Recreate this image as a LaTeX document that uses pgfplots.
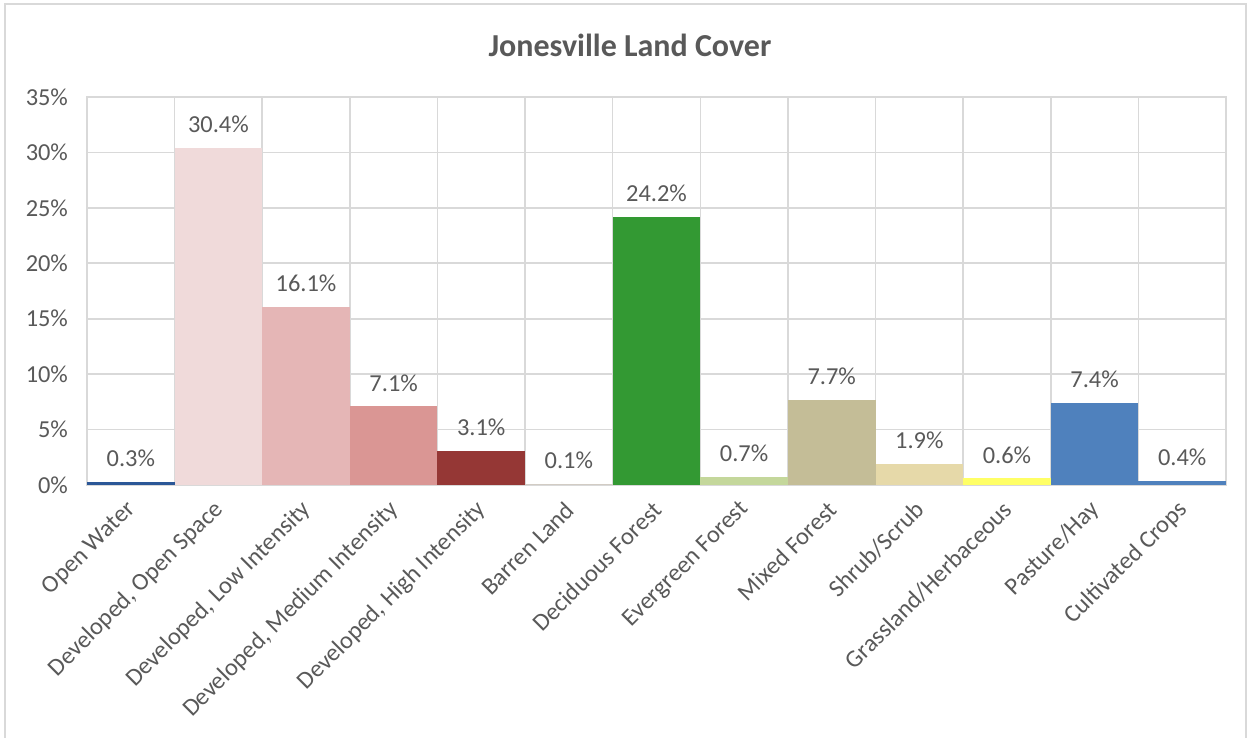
\documentclass[border=0pt]{standalone}
\usepackage{pgfplots}
\pgfplotsset{compat=1.18}
\usepackage{fontspec}
\setmainfont{Carlito}
\definecolor{txt}{HTML}{595959}
\definecolor{gridc}{HTML}{D9D9D9}
\definecolor{c1}{HTML}{2B5797}
\definecolor{c2}{HTML}{F0DADA}
\definecolor{c3}{HTML}{E5B6B6}
\definecolor{c4}{HTML}{DA9694}
\definecolor{c5}{HTML}{953735}
\definecolor{c6}{HTML}{D2CCC4}
\definecolor{c7}{HTML}{339933}
\definecolor{c8}{HTML}{C4D79B}
\definecolor{c9}{HTML}{C4BD97}
\definecolor{c10}{HTML}{E6D9A9}
\definecolor{c11}{HTML}{FFFF66}
\definecolor{c12}{HTML}{4F81BD}
\definecolor{c13}{HTML}{4F81BD}
\newcommand{\lblfont}{\fontsize{12.2}{14}\selectfont}
\begin{document}
\begin{tikzpicture}
\path[use as bounding box] (0,0) rectangle (627pt,369pt);
\draw[gridc, line width=0.8pt] (2.5pt,-5pt) -- (2.5pt,367pt) -- (623pt,367pt) -- (623pt,-5pt);
\node[font=\bfseries\fontsize{16}{19}\selectfont, text=txt] at (315pt,346.5pt) {Jonesville Land Cover};
\begin{axis}[
  at={(43.5pt,126.5pt)}, anchor=south west,
  scale only axis, width=569.5pt, height=194pt,
  xmin=0, xmax=13, ymin=0, ymax=35,
  ytick={0,5,...,35},
  yticklabel={\pgfmathprintnumber{\tick}\%},
  /pgf/number format/assume math mode=true,
  xtick={0.5,1.5,...,12.5},
  xticklabels={Open Water,{Developed, Open Space},{Developed, Low Intensity},{Developed, Medium Intensity},{Developed, High Intensity},Barren Land,Deciduous Forest,Evergreen Forest,Mixed Forest,Shrub/Scrub,Grassland/Herbaceous,Pasture/Hay,Cultivated Crops},
  minor xtick={0,1,...,13},
  xminorgrids, ymajorgrids,
  grid style={gridc, line width=0.8pt},
  minor grid style={gridc, line width=0.8pt},
  axis line style={gridc, line width=0.8pt},
  major tick length=0pt, minor tick length=0pt,
  tick style={draw=none},
  ticklabel style={font=\lblfont, text=txt},
  xticklabel style={yshift=-8pt, xshift=3pt, rotate=45, anchor=east},
  yticklabel style={xshift=-6pt},
  every node near coord/.style={font=\lblfont, text=txt, anchor=south, yshift=4pt},
  clip=false,
]
\addplot[ybar, bar width=1, bar shift=0pt, fill=c1, draw=none, nodes near coords={0.3\%}] coordinates {(0.5,0.3)};
\addplot[ybar, bar width=1, bar shift=0pt, fill=c2, draw=none, nodes near coords={30.4\%}] coordinates {(1.5,30.4)};
\addplot[ybar, bar width=1, bar shift=0pt, fill=c3, draw=none, nodes near coords={16.1\%}] coordinates {(2.5,16.1)};
\addplot[ybar, bar width=1, bar shift=0pt, fill=c4, draw=none, nodes near coords={7.1\%}] coordinates {(3.5,7.1)};
\addplot[ybar, bar width=1, bar shift=0pt, fill=c5, draw=none, nodes near coords={3.1\%}] coordinates {(4.5,3.1)};
\addplot[ybar, bar width=1, bar shift=0pt, fill=c6, draw=none, nodes near coords={0.1\%}] coordinates {(5.5,0.1)};
\addplot[ybar, bar width=1, bar shift=0pt, fill=c7, draw=none, nodes near coords={24.2\%}] coordinates {(6.5,24.2)};
\addplot[ybar, bar width=1, bar shift=0pt, fill=c8, draw=none, nodes near coords={0.7\%}] coordinates {(7.5,0.7)};
\addplot[ybar, bar width=1, bar shift=0pt, fill=c9, draw=none, nodes near coords={7.7\%}] coordinates {(8.5,7.7)};
\addplot[ybar, bar width=1, bar shift=0pt, fill=c10, draw=none, nodes near coords={1.9\%}] coordinates {(9.5,1.9)};
\addplot[ybar, bar width=1, bar shift=0pt, fill=c11, draw=none, nodes near coords={0.6\%}] coordinates {(10.5,0.6)};
\addplot[ybar, bar width=1, bar shift=0pt, fill=c12, draw=none, nodes near coords={7.4\%}] coordinates {(11.5,7.4)};
\addplot[ybar, bar width=1, bar shift=0pt, fill=c13, draw=none, nodes near coords={0.4\%}] coordinates {(12.5,0.4)};
\end{axis}
\end{tikzpicture}
\end{document}
